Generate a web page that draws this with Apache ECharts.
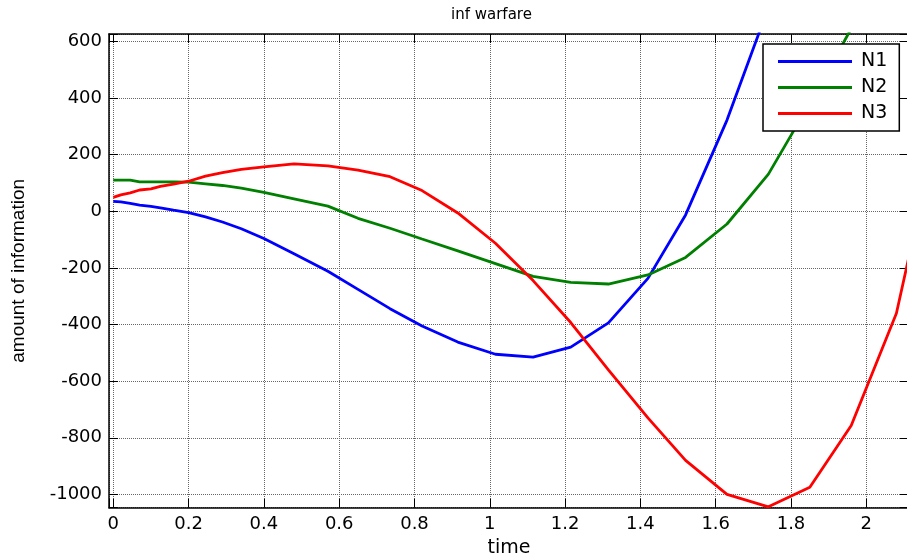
<!DOCTYPE html>
<html>
<head>
<meta charset="utf-8">
<script src="https://cdn.jsdelivr.net/npm/echarts@6/dist/echarts.min.js"></script>
<style>
  html, body { margin: 0; padding: 0; background: #fff; }
  #chart { width: 907px; height: 557px; }
</style>
</head>
<body>
<div id="chart"></div>
<script>
// ---- data ----
const titleText = 'inf warfare';
const xName = 'time';
const yName = 'amount of information';
const seriesNames = ['N1', 'N2', 'N3'];
const time = [0, 0.02, 0.045, 0.07, 0.1, 0.125, 0.16, 0.2, 0.245, 0.29, 0.34, 0.4, 0.48, 0.57, 0.65, 0.735, 0.82, 0.915, 1.015, 1.115, 1.215, 1.315, 1.42, 1.52, 1.63, 1.74, 1.85, 1.96, 2.08, 2.19];
const N1 = [35, 33, 28, 22, 17, 12, 4, -5, -20, -38, -62, -96, -150, -212, -276, -344, -405, -462, -505, -515, -480, -394, -237, -13, 322, 720, null, null, null, null];
const N2 = [110, 110, 110, 104, 104, 104, 104, 103, 97, 91, 82, 67, 44, 18, -25, -60, -98, -140, -185, -230, -251, -257, -225, -163, -45, 131, 382, 645, null, null];
const N3 = [49, 58, 65, 75, 79, 88, 96, 106, 124, 136, 148, 157, 167, 160, 145, 122, 73, -6, -113, -245, -393, -560, -730, -880, -1000, -1044, -975, -757, -360, 300];
const xTickStep = 0.2;
const yTickStep = 200;

const colors = ['#0000ff', '#008000', '#ff0000'];
const allSeries = [N1, N2, N3];

const xMin = -0.0114, xMax = 2.1134;
const yMin = -1047, yMax = 626;

function isMultiple(v, step) {
  const r = v / step;
  return Math.abs(r - Math.round(r)) < 1e-6;
}

const chart = echarts.init(document.getElementById('chart'), null, { renderer: 'canvas' });

const gridLine = { show: true, lineStyle: { type: 'dotted', color: '#666', width: 1 } };
const axisLineStyle = { show: true, onZero: false, lineStyle: { color: '#000', width: 1.5 } };

const option = {
  animation: false,
  backgroundColor: '#fff',
  title: {
    text: titleText,
    left: 446,
    top: 3,
    textStyle: { fontFamily: 'DejaVu Sans', fontSize: 15, fontWeight: 'normal', color: '#000' }
  },
  legend: {
    data: seriesNames,
    orient: 'vertical',
    left: 763,
    top: 44,
    padding: [8, 12, 8, 15],
    itemWidth: 74,
    itemHeight: 3,
    itemGap: 7,
    icon: 'rect',
    backgroundColor: '#fff',
    borderColor: '#000',
    borderWidth: 1.5,
    borderRadius: 0,
    textStyle: { fontFamily: 'DejaVu Sans', fontSize: 19, color: '#000', lineHeight: 19, padding: [0, 0, 0, 4] }
  },
  grid: { left: 109, top: 34, right: -2, bottom: 49.3, containLabel: false, outerBoundsMode: 'none' },
  xAxis: [
    {
      type: 'value', position: 'bottom', min: xMin, max: xMax, splitNumber: 10,
      name: xName, nameLocation: 'middle', nameGap: 28,
      nameTextStyle: { fontFamily: 'DejaVu Sans', fontSize: 19, color: '#000' },
      axisLine: axisLineStyle,
      axisTick: { show: true, inside: true, length: 9, lineStyle: { color: '#000', width: 1 } },
      axisLabel: {
        show: true, margin: 8, color: '#000', fontFamily: 'DejaVu Sans', fontSize: 18,
        formatter: v => isMultiple(v, xTickStep) ? String(+v.toFixed(1)) : ''
      },
      splitLine: gridLine
    },
    {
      type: 'value', position: 'top', min: xMin, max: xMax, splitNumber: 10,
      axisLine: axisLineStyle,
      axisTick: { show: true, inside: true, length: 9, lineStyle: { color: '#000', width: 1 } },
      axisLabel: { show: false },
      splitLine: { show: false }
    }
  ],
  yAxis: [
    {
      type: 'value', position: 'left', min: yMin, max: yMax, splitNumber: 8,
      name: yName, nameLocation: 'middle', nameGap: 81, nameRotate: 90,
      nameTextStyle: { fontFamily: 'Liberation Sans', fontSize: 19, color: '#000' },
      axisLine: axisLineStyle,
      axisTick: { show: true, inside: true, length: 9, lineStyle: { color: '#000', width: 1 } },
      axisLabel: {
        show: true, margin: 7, color: '#000', fontFamily: 'DejaVu Sans', fontSize: 18,
        formatter: v => isMultiple(v, yTickStep) ? String(Math.round(v)) : ''
      },
      splitLine: gridLine
    },
    {
      type: 'value', position: 'right', min: yMin, max: yMax, splitNumber: 8,
      axisLine: axisLineStyle,
      axisTick: { show: true, inside: true, length: 9, lineStyle: { color: '#000', width: 1 } },
      axisLabel: { show: false },
      splitLine: { show: false }
    }
  ],
  series: seriesNames.map((name, k) => ({
    name: name,
    type: 'line',
    xAxisIndex: 0,
    yAxisIndex: 0,
    showSymbol: false,
    symbol: 'none',
    clip: true,
    connectNulls: false,
    lineStyle: { color: colors[k], width: 2.8 },
    itemStyle: { color: colors[k] },
    data: time.map((t, i) => [t, allSeries[k][i]])
  }))
};

chart.setOption(option);
</script>
</body>
</html>
